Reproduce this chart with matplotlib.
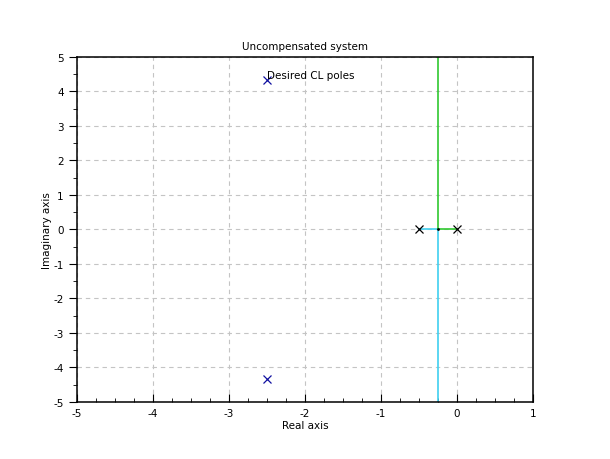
import matplotlib
matplotlib.use("Agg")
import matplotlib.pyplot as plt
from matplotlib.ticker import MultipleLocator

# open-loop poles of G(s) = K / (s (s + 0.5))
ol_poles_re = [-0.5, 0.0]
ol_poles_im = [0.0, 0.0]

# root locus branches (breakaway at -0.25)
branch1_re = [-0.5, -0.25, -0.25]
branch1_im = [0.0, 0.0, -6.0]
branch2_re = [0.0, -0.25, -0.25]
branch2_im = [0.0, 0.0, 6.0]

# desired closed-loop poles
cl_re = [-2.5, -2.5]
cl_im = [4.33, -4.33]

plt.rcParams['font.family'] = ['DejaVu Sans']
plt.rcParams['axes.unicode_minus'] = False
fig = plt.figure(figsize=(6.1, 4.6), dpi=100)
ax = fig.add_axes([0.126, 0.124, 0.748, 0.75])

ax.grid(True, color='#c4c4c4', linestyle=(0, (4, 3.5)), linewidth=0.8)
ax.set_axisbelow(True)

ax.plot(branch1_re, branch1_im, color='#40d0f0', lw=1.2)
ax.plot(branch2_re, branch2_im, color='#30c830', lw=1.2)
ax.plot([-0.25], [0], marker='.', color='black', ms=2)
ax.plot(ol_poles_re, ol_poles_im, 'x', color='black', ms=6, mew=0.9)
ax.plot(cl_re, cl_im, 'x', color='#1010a0', ms=6, mew=0.9)
ax.text(cl_re[0], cl_im[0], 'Desired CL poles', fontsize=7.5,
        ha='left', va='bottom')

ax.set_xlim(-5, 1)
ax.set_ylim(-5, 5)
ax.xaxis.set_major_locator(MultipleLocator(1))
ax.xaxis.set_minor_locator(MultipleLocator(0.25))
ax.yaxis.set_major_locator(MultipleLocator(1))
ax.yaxis.set_minor_locator(MultipleLocator(0.5))
ax.tick_params(axis='x', which='both', direction='in', labelsize=7.5, pad=4)
ax.tick_params(axis='y', which='both', direction='out', labelsize=7.5)
ax.tick_params(which='major', length=6)
ax.tick_params(which='minor', length=3)
for s in ax.spines.values():
    s.set_linewidth(1.1)

ax.set_title('Uncompensated system', fontsize=7.5, pad=6)
ax.set_xlabel('Real axis', fontsize=7.5, labelpad=2)
ax.set_ylabel('Imaginary axis', fontsize=7.5, labelpad=1)

fig.savefig('out.png', dpi=100)
